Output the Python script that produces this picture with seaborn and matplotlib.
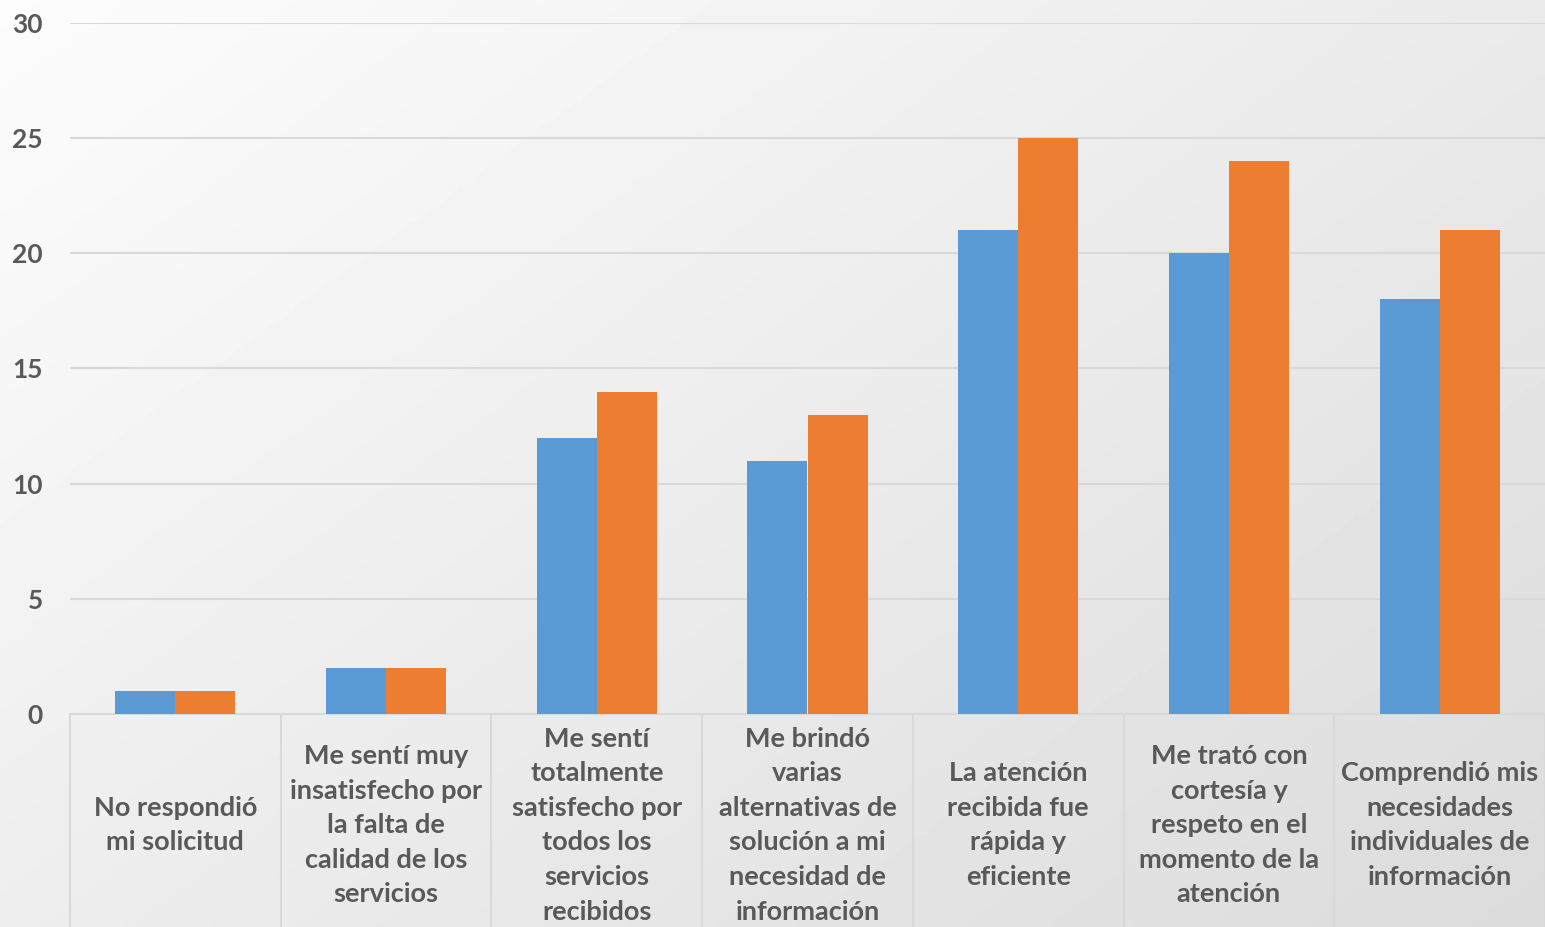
import numpy as np
import pandas as pd
import matplotlib
matplotlib.use("Agg")
import matplotlib.pyplot as plt
import matplotlib.transforms as mtransforms
import seaborn as sns

categories = [
    "No respondió\nmi solicitud",
    "Me sentí muy\ninsatisfecho por\nla falta de\ncalidad de los\nservicios",
    "Me sentí\ntotalmente\nsatisfecho por\ntodos los\nservicios\nrecibidos",
    "Me brindó\nvarias\nalternativas de\nsolución a mi\nnecesidad de\ninformación",
    "La atención\nrecibida fue\nrápida y\neficiente",
    "Me trató con\ncortesía y\nrespeto en el\nmomento de la\natención",
    "Comprendió mis\nnecesidades\nindividuales de\ninformación",
]
series_names = ["Serie 1", "Serie 2"]
serie1 = [1, 2, 12, 11, 21, 20, 18]
serie2 = [1, 2, 14, 13, 25, 24, 21]
yticks = [0, 5, 10, 15, 20, 25, 30]

colors = ["#5B9BD5", "#ED7D31"]
text_color = "#595959"

sns.set_theme(style="white")
plt.rcParams['font.family'] = ['Lato', 'DejaVu Sans']

df = pd.DataFrame({
    "cat": categories * 2,
    "serie": [series_names[0]] * len(categories) + [series_names[1]] * len(categories),
    "val": serie1 + serie2,
})

W, H = 1545, 927
fig = plt.figure(figsize=(W / 100, H / 100), dpi=100)

# background gradient
bg = fig.add_axes([0, 0, 1, 1], zorder=-10)
xx, yy = np.meshgrid(np.linspace(0, 1, 300), np.linspace(0, 1, 200))
t = (xx * 0.55 + yy * 0.45)
grad = 0.99 - 0.13 * t
bg.imshow(grad, cmap="gray", vmin=0, vmax=1, aspect="auto", origin="upper",
          extent=[0, 1, 0, 1])
bg.set_axis_off()

left, right = 70 / W, 1.0
bottom, top = (H - 714) / H, (H - 23) / H
ax = fig.add_axes([left, bottom, right - left, top - bottom])
ax.set_facecolor("none")

sns.barplot(data=df, x="cat", y="val", hue="serie", palette=colors, ax=ax,
            width=0.57, gap=0, linewidth=0, saturation=1, legend=False, zorder=3)

ax.set_ylim(0, 30)
ax.set_xlim(-0.5, len(categories) - 0.5)
ax.set_yticks(yticks)
ax.set_yticklabels([str(v) for v in yticks], fontsize=19, fontweight="bold",
                   color=text_color)
ax.tick_params(axis="y", length=0, pad=19.5)

ax.yaxis.grid(True, color="#D9D9D9", linewidth=1.5, zorder=0)
ax.set_axisbelow(True)
for s in ["top", "right", "left"]:
    ax.spines[s].set_visible(False)
ax.spines["bottom"].set_color("#D9D9D9")
ax.spines["bottom"].set_linewidth(1.5)

ax.set_xticks(range(len(categories)))
ax.set_xticklabels(categories, fontsize=19.5, fontweight="bold", color=text_color,
                   va="center", linespacing=1.53)
ax.tick_params(axis="x", length=0, pad=80)
ax.set_xlabel("")
ax.set_ylabel("")

trans = mtransforms.blended_transform_factory(ax.transData, ax.transAxes)
for b in np.arange(-0.5, len(categories) - 0.4, 1.0):
    ax.plot([b, b], [0, -0.4], transform=trans, color="#D9D9D9", linewidth=1.5,
            clip_on=False, zorder=1)

fig.savefig("out.png", dpi=100)
